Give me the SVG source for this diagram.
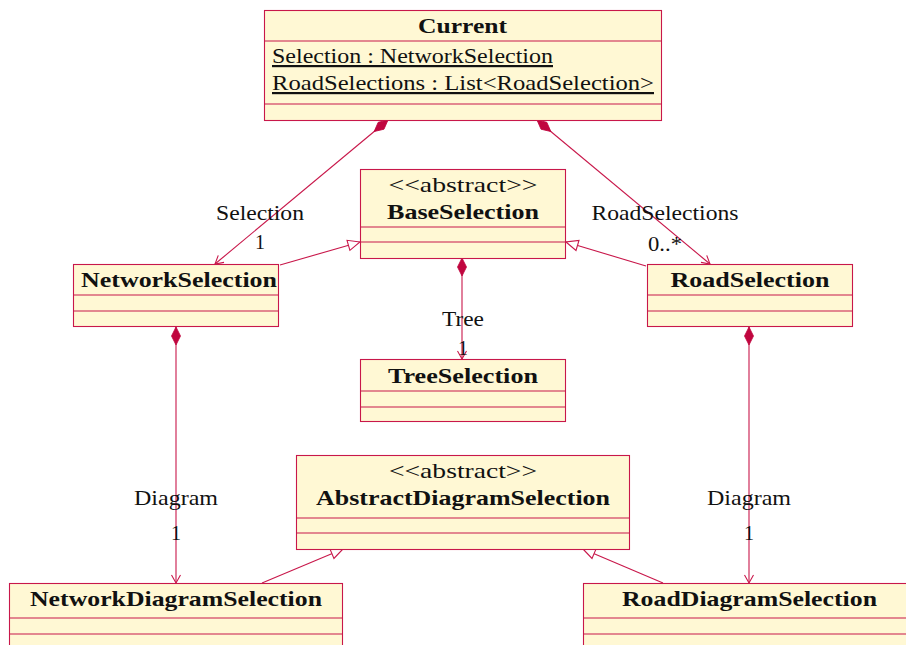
<svg xmlns="http://www.w3.org/2000/svg" width="906" height="645" viewBox="0 0 906 645">
  <style>
    .box { fill: #fff8d4; stroke: #c8174a; stroke-width: 1.1; }
    .sep { stroke: #c8174a; stroke-width: 1.1; }
    .t { font-family: "Liberation Serif", "Times New Roman", serif; font-size: 22px; fill: #111; text-anchor: middle; }
    .b { font-weight: bold; }
    .l { text-anchor: start; }
    .u { text-decoration: underline; }
    .conn { stroke: #c8174a; stroke-width: 1.1; fill: none; }
    .comp { marker-start: url(#diamond); marker-end: url(#open); }
    .gen { marker-end: url(#tri); }
  </style>
  <defs>
    <marker id="diamond" markerUnits="userSpaceOnUse" markerWidth="22" markerHeight="12" refX="0" refY="6" orient="auto" overflow="visible">
      <path d="M0,6 L9,1.5 L18,6 L9,10.5 Z" fill="#c0063f" stroke="#c0063f" stroke-width="0.8"/>
    </marker>
    <marker id="open" markerUnits="userSpaceOnUse" markerWidth="12" markerHeight="12" refX="10" refY="6" orient="auto" overflow="visible">
      <path d="M2,1.5 L10,6 L2,10.5" fill="none" stroke="#c8174a" stroke-width="1.1"/>
    </marker>
    <marker id="tri" markerUnits="userSpaceOnUse" markerWidth="16" markerHeight="14" refX="14" refY="7" orient="auto" overflow="visible">
      <path d="M14,7 L2,1.8 L2,12.2 Z" fill="#ffffff" stroke="#c8174a" stroke-width="1.1"/>
    </marker>
  </defs>

  <!-- associations and generalisations -->
  <g id="connectors">
    <path class="conn comp" d="M388,120 L215,264"/>
    <path class="conn comp" d="M537,120 L710,264"/>
    <path class="conn gen" d="M280,265 L360,242"/>
    <path class="conn gen" d="M646,266 L566,242"/>
    <path class="conn comp" d="M462,258 L462,359"/>
    <path class="conn comp" d="M176,327 L176,583"/>
    <path class="conn comp" d="M749,327 L749,583"/>
    <path class="conn gen" d="M262,583 L343,549"/>
    <path class="conn gen" d="M663,583 L583,549"/>
  </g>

  <!-- role names and multiplicities -->
  <g id="labels">
    <text class="t" x="260" y="220" textLength="88" lengthAdjust="spacingAndGlyphs">Selection</text>
    <text class="t" x="260" y="249" textLength="10" lengthAdjust="spacingAndGlyphs">1</text>
    <text class="t" x="665" y="220" textLength="147" lengthAdjust="spacingAndGlyphs">RoadSelections</text>
    <text class="t" x="665" y="251" textLength="34" lengthAdjust="spacingAndGlyphs">0..*</text>
    <text class="t" x="463" y="326" textLength="42" lengthAdjust="spacingAndGlyphs">Tree</text>
    <text class="t" x="463" y="355" textLength="10" lengthAdjust="spacingAndGlyphs">1</text>
    <text class="t" x="176" y="505" textLength="84" lengthAdjust="spacingAndGlyphs">Diagram</text>
    <text class="t" x="176" y="540" textLength="10" lengthAdjust="spacingAndGlyphs">1</text>
    <text class="t" x="749" y="505" textLength="84" lengthAdjust="spacingAndGlyphs">Diagram</text>
    <text class="t" x="749" y="540" textLength="10" lengthAdjust="spacingAndGlyphs">1</text>
  </g>

  <g id="current">
    <rect class="box" x="264.5" y="10.5" width="397" height="110"/>
    <line class="sep" x1="264.5" y1="41" x2="661.5" y2="41"/>
    <line class="sep" x1="264.5" y1="104" x2="661.5" y2="104"/>
    <text class="t b" x="462.5" y="33" textLength="89" lengthAdjust="spacingAndGlyphs">Current</text>
    <text class="t l u" x="272" y="63" textLength="281" lengthAdjust="spacingAndGlyphs">Selection :  NetworkSelection</text>
    <text class="t l u" x="272" y="90" textLength="382" lengthAdjust="spacingAndGlyphs">RoadSelections :  List&lt;RoadSelection&gt;</text>
  </g>

  <g id="baseSelection">
    <rect class="box" x="360.5" y="169.5" width="205" height="89"/>
    <line class="sep" x1="360.5" y1="227" x2="565.5" y2="227"/>
    <line class="sep" x1="360.5" y1="242" x2="565.5" y2="242"/>
    <text class="t" x="463" y="192" textLength="149" lengthAdjust="spacingAndGlyphs">&lt;&lt;abstract&gt;&gt;</text>
    <text class="t b" x="463" y="219" textLength="152" lengthAdjust="spacingAndGlyphs">BaseSelection</text>
  </g>

  <g id="networkSelection">
    <rect class="box" x="73.5" y="264.5" width="205" height="62"/>
    <line class="sep" x1="73.5" y1="295" x2="278.5" y2="295"/>
    <line class="sep" x1="73.5" y1="311" x2="278.5" y2="311"/>
    <text class="t b" x="179" y="287" textLength="196" lengthAdjust="spacingAndGlyphs">NetworkSelection</text>
  </g>

  <g id="roadSelection">
    <rect class="box" x="647.5" y="264.5" width="205" height="62"/>
    <line class="sep" x1="647.5" y1="295" x2="852.5" y2="295"/>
    <line class="sep" x1="647.5" y1="311" x2="852.5" y2="311"/>
    <text class="t b" x="750" y="287" textLength="159" lengthAdjust="spacingAndGlyphs">RoadSelection</text>
  </g>

  <g id="treeSelection">
    <rect class="box" x="360.5" y="359.5" width="205" height="62"/>
    <line class="sep" x1="360.5" y1="391" x2="565.5" y2="391"/>
    <line class="sep" x1="360.5" y1="407" x2="565.5" y2="407"/>
    <text class="t b" x="463" y="383" textLength="150" lengthAdjust="spacingAndGlyphs">TreeSelection</text>
  </g>

  <g id="abstractDiagramSelection">
    <rect class="box" x="296.5" y="455.5" width="333" height="94"/>
    <line class="sep" x1="296.5" y1="518" x2="629.5" y2="518"/>
    <line class="sep" x1="296.5" y1="533" x2="629.5" y2="533"/>
    <text class="t" x="463" y="478" textLength="148" lengthAdjust="spacingAndGlyphs">&lt;&lt;abstract&gt;&gt;</text>
    <text class="t b" x="463" y="505" textLength="294" lengthAdjust="spacingAndGlyphs">AbstractDiagramSelection</text>
  </g>

  <g id="networkDiagramSelection">
    <rect class="box" x="9.5" y="583.5" width="333" height="80"/>
    <line class="sep" x1="9.5" y1="618" x2="342.5" y2="618"/>
    <line class="sep" x1="9.5" y1="634" x2="342.5" y2="634"/>
    <text class="t b" x="176" y="606" textLength="292" lengthAdjust="spacingAndGlyphs">NetworkDiagramSelection</text>
  </g>

  <g id="roadDiagramSelection">
    <rect class="box" x="583.5" y="583.5" width="333" height="80"/>
    <line class="sep" x1="583.5" y1="618" x2="916.5" y2="618"/>
    <line class="sep" x1="583.5" y1="634" x2="916.5" y2="634"/>
    <text class="t b" x="749.5" y="606" textLength="255" lengthAdjust="spacingAndGlyphs">RoadDiagramSelection</text>
  </g>
</svg>
